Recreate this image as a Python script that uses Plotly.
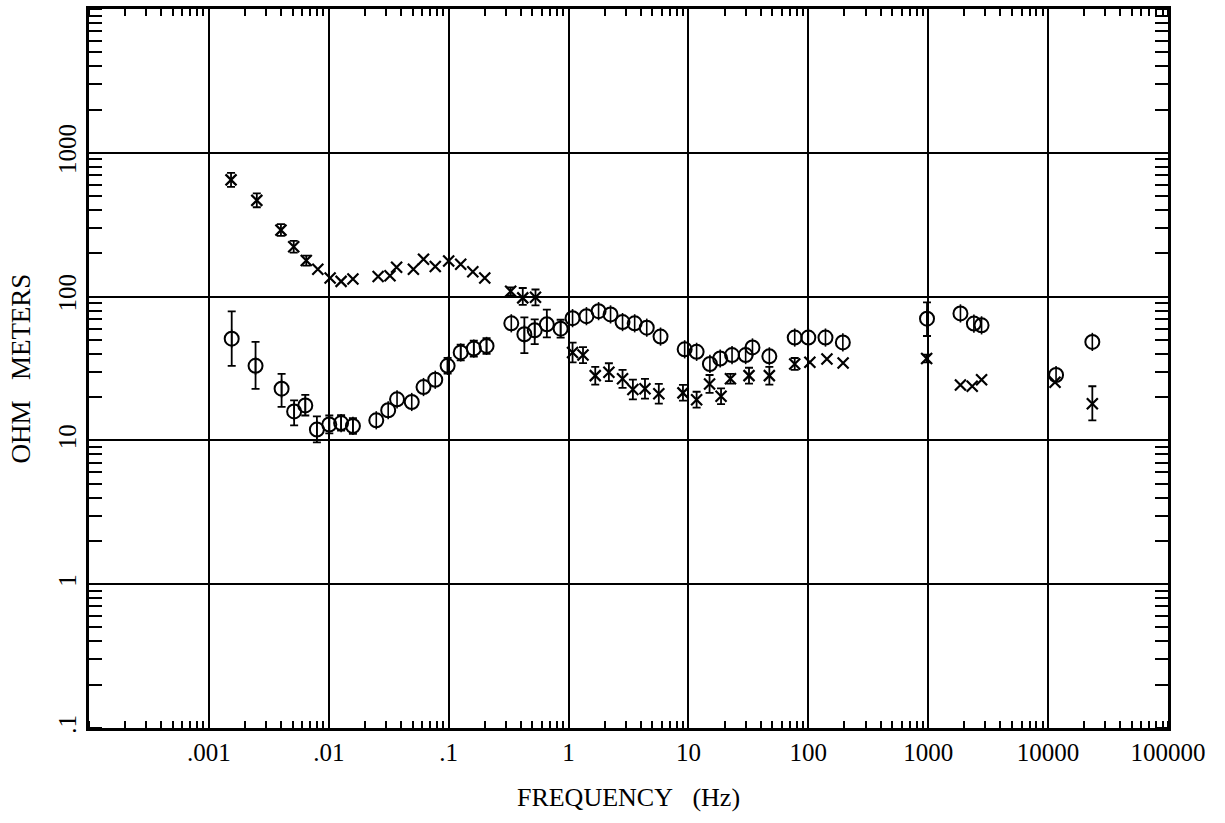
import plotly.graph_objects as go

# ---- data (frequency in Hz, apparent resistivity in ohm-m) ----
star_freq = [0.00153, 0.00251, 0.00399, 0.0051, 0.00649, 0.0081, 0.01026, 0.01267, 0.0159,
             0.0258, 0.0324, 0.0368, 0.0508, 0.0617, 0.0773, 0.1, 0.126, 0.159, 0.2,
             0.329, 0.415, 0.53, 1.08, 1.32, 1.67, 2.17, 2.82, 3.44, 4.34, 5.66, 9.0,
             11.7, 15.0, 18.7, 22.4, 32.0, 47.3, 77.0, 103.0, 143.0, 195.0,
             970.0, 1857.0, 2328.0, 2786.0, 11420.0, 23380.0]
star_val = [648, 467, 290, 222, 178, 155, 134.6, 127.6, 132.5,
            138, 139.6, 160, 155, 182, 162, 177, 168, 149, 134.6,
            108.8, 98, 98.9, 40.9, 39.2, 28.2, 29.8, 26.8, 22.6, 22.9, 21.1, 21.4,
            19.2, 24.7, 20.3, 26.8, 28.2, 28.2, 34.0, 34.9, 36.8, 34.5,
            37.1, 24.3, 23.8, 26.4, 25.4, 18.0]
star_hi = [724, 522, 319, 244, 193, None, None, None, None,
           None, None, None, None, None, None, None, None, None, None,
           116, 114.8, 112, 47.9, 44.5, 32.5, 34.4, 30.9, 26.5, 26.8, 24.7, 24.3,
           21.8, 28.5, 23.0, 29.0, 32.0, 32.5, 37.4, None, None, None,
           39.4, None, None, None, None, 23.8]
star_lo = [580, 418, 264, 202, 164, None, None, None, None,
           None, None, None, None, None, None, None, None, None, None,
           102, 87.7, 87, 34.9, 34.5, 24.4, 25.8, 23.2, 19.3, 19.5, 18.0, 18.9,
           16.9, 21.4, 17.9, 24.8, 24.8, 24.4, 30.9, None, None, None,
           34.9, None, None, None, None, 13.8]

circ_freq = [0.00155, 0.00245, 0.00404, 0.00514, 0.00637, 0.00796, 0.0101, 0.01267, 0.0159,
             0.0249, 0.0313, 0.0371, 0.0492, 0.0617, 0.0773, 0.098, 0.126, 0.162, 0.207,
             0.333, 0.428, 0.522, 0.659, 0.859, 1.08, 1.41, 1.78, 2.24, 2.82, 3.56, 4.49,
             5.85, 9.3, 11.7, 15.1, 18.4, 23.1, 30.0, 34.2, 47.3, 77.0, 100.0, 139.0, 194.0,
             977.0, 1857.0, 2404.0, 2786.0, 11650.0, 23380.0]
circ_val = [51, 33, 22.9, 15.9, 17.5, 11.9, 12.9, 13.2, 12.6,
            13.8, 16.2, 19.3, 18.5, 23.5, 26.4, 33, 40.9, 43.5, 45.4,
            65.2, 54.7, 58.3, 64.1, 59.8, 70.8, 73.1, 79.2, 75.2, 66.5, 65.2, 60.8,
            52.7, 43, 41.3, 34, 37.1, 39.2, 39.2, 44.3, 38.4, 51.9, 51.9, 51.9, 48,
            70.2, 76.4, 64.9, 63.1, 28.5, 48.4]
circ_hi = [79, 48.4, 29, 19, 20.7, 14.7, 14.9, 15, 14.3,
           None, None, None, None, None, None, 37.5, 46.4, 49.4, 51.5,
           None, 71.6, 69.5, 81.3, 69, None, None, None, None, None, None, None,
           None, None, None, None, None, None, None, None, None, None, None, None, None,
           91.2, None, None, None, None, None]
circ_lo = [33, 22.8, 17.1, 12.7, 14.9, 9.7, 11.2, 11.7, 11.1,
           None, None, None, None, None, None, 29.1, 36.0, 38.3, 40.0,
           None, 40.5, 46.7, 52.1, 51.9, None, None, None, None, None, None, None,
           None, None, None, None, None, None, None, None, None, None, None, None, None,
           53.2, None, None, None, None, None]

x_tickvals = [0.001, 0.01, 0.1, 1, 10, 100, 1000, 10000, 100000]
x_ticktext = [".001", ".01", ".1", "1", "10", "100", "1000", "10000", "100000"]
y_tickvals = [0.1, 1, 10, 100, 1000]
y_ticktext = [".1", "1", "10", "100", "1000"]

FONT = "Liberation Serif"


def error_trace(freq, vals, hi, lo):
    """Trace carrying only the error bars for points that have them."""
    xs, ys, plus, minus = [], [], [], []
    for f, v, h, l in zip(freq, vals, hi, lo):
        if h is None or l is None:
            continue
        xs.append(f)
        ys.append(v)
        plus.append(h - v)
        minus.append(v - l)
    return go.Scatter(
        x=xs, y=ys, mode="markers",
        marker=dict(size=1, color="rgba(0,0,0,0)"),
        error_y=dict(type="data", array=plus, arrayminus=minus, symmetric=False,
                     color="black", thickness=1.8, width=4),
        showlegend=False, hoverinfo="skip",
    )


fig = go.Figure()

# stars (x marks)
fig.add_trace(error_trace(star_freq, star_val, star_hi, star_lo))
fig.add_trace(go.Scatter(
    x=star_freq, y=star_val, mode="markers",
    marker=dict(symbol="x-thin-open", size=11, color="black",
                line=dict(color="black", width=2.2)),
    showlegend=False,
))

# circles with a short vertical stroke (Phi look)
fig.add_trace(error_trace(circ_freq, circ_val, circ_hi, circ_lo))
fig.add_trace(go.Scatter(
    x=circ_freq, y=circ_val, mode="markers",
    marker=dict(symbol="line-ns-open", size=13, color="black",
                line=dict(color="black", width=1.6)),
    showlegend=False, hoverinfo="skip",
))
fig.add_trace(go.Scatter(
    x=circ_freq, y=circ_val, mode="markers",
    marker=dict(symbol="circle-open", size=14, color="black",
                line=dict(color="black", width=2)),
    showlegend=False,
))

fig.update_layout(
    width=1225, height=823,
    margin=dict(l=89, r=57, t=6, b=95),
    paper_bgcolor="white", plot_bgcolor="white",
    font=dict(family=FONT, color="black", size=25),
    xaxis=dict(
        type="log", range=[-4, 5],
        tickmode="array", tickvals=x_tickvals, ticktext=x_ticktext,
        ticks="", showgrid=True, gridcolor="black", gridwidth=1.6,
        showline=True, linecolor="black", linewidth=2.5, mirror="allticks",
        zeroline=False,
        tickfont=dict(family=FONT, size=25, color="black"),
        minor=dict(dtick="D1", ticks="inside", ticklen=7, tickwidth=2,
                   tickcolor="black", showgrid=False),
        title=dict(text="FREQUENCY&nbsp;&nbsp;&nbsp;(Hz)",
                   font=dict(family=FONT, size=26, color="black"), standoff=24),
    ),
    yaxis=dict(
        type="log", range=[-1, 4],
        tickmode="array", tickvals=y_tickvals, ticktext=y_ticktext,
        ticks="", showgrid=True, gridcolor="black", gridwidth=1.6,
        showline=True, linecolor="black", linewidth=2.5, mirror="allticks",
        zeroline=False, tickangle=-90,
        tickfont=dict(family=FONT, size=25, color="black"),
        minor=dict(dtick="D1", ticks="inside", ticklen=13, tickwidth=2,
                   tickcolor="black", showgrid=False),
        title=dict(text="OHM&nbsp;&nbsp;&nbsp;METERS",
                   font=dict(family=FONT, size=27, color="black"), standoff=16),
    ),
)

fig.write_html("out.html")
